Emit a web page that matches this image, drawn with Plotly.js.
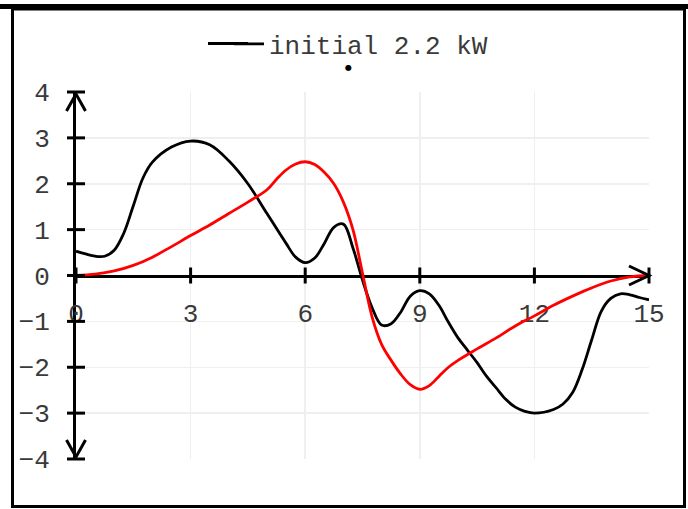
<!DOCTYPE html>
<html>
<head>
<meta charset="utf-8">
<script src="https://cdn.plot.ly/plotly-3.0.1.min.js"></script>
<style>
html,body{margin:0;padding:0;background:#fff;}
#chart{width:688px;height:509px;}
</style>
</head>
<body>
<div id="chart"></div>
<script>
// ---- data ----
const blackX = [0,0.25,0.5,0.75,1,1.25,1.5,1.75,2,2.5,3,3.5,4,4.5,5,5.5,5.75,6,6.25,6.5,6.75,7,7.25,7.5,7.75,8,8.25,8.5,8.75,9,9.25,9.5,9.75,10,10.25,10.5,10.75,11,11.25,11.5,11.75,12,12.5,12.75,13,13.25,13.5,13.75,14,14.25,14.5,14.75,15];
const blackY = [0.53,0.47,0.42,0.42,0.55,0.92,1.52,2.12,2.47,2.8,2.93,2.85,2.5,2.0,1.35,0.7,0.4,0.28,0.38,0.7,1.05,1.12,0.6,-0.1,-0.7,-1.08,-1.05,-0.8,-0.45,-0.33,-0.4,-0.65,-1.02,-1.36,-1.63,-1.9,-2.2,-2.45,-2.7,-2.87,-2.96,-3.0,-2.92,-2.8,-2.55,-2.05,-1.4,-0.78,-0.5,-0.4,-0.42,-0.48,-0.53];
const redX = [0,0.5,1,1.5,2,2.5,3,3.5,4,4.5,5,5.25,5.5,5.75,6,6.25,6.5,6.75,7,7.25,7.5,7.75,8,8.25,8.5,8.75,9,9.25,9.5,9.75,10,10.5,11,11.5,12,12.5,13,13.5,14,14.5,15];
const redY = [0,0.03,0.1,0.22,0.4,0.63,0.87,1.1,1.35,1.6,1.87,2.1,2.3,2.43,2.48,2.42,2.25,2.0,1.6,1.0,0.05,-0.9,-1.5,-1.85,-2.15,-2.38,-2.48,-2.4,-2.2,-2.0,-1.85,-1.6,-1.36,-1.1,-0.88,-0.65,-0.45,-0.27,-0.12,-0.03,0];
const seriesName = 'initial 2.2 kW';
const xTicks = [0,3,6,9,12,15];
const yTicks = [-4,-3,-2,-1,0,1,2,3,4];
const xRange = [0, 15];
const yRange = [-4, 4];

// ---- geometry helpers ----
const L = 76, R = 39, T = 92, B = 50, W = 688, H = 509;
const pw = W - L - R, ph = H - T - B;
const px = v => (v - L) / pw;          // pixel -> paper
const py = v => (H - B - v) / ph;
const xp = v => (v - xRange[0]) / (xRange[1] - xRange[0]);  // data -> paper
const yp = v => (v - yRange[0]) / (yRange[1] - yRange[0]);

const FONT = 'Liberation Mono, Courier New, monospace';
const TXT = '#3a3a3a';

const traces = [
  {x: blackX, y: blackY, type: 'scatter', mode: 'lines', name: seriesName,
   line: {color: '#000000', width: 2.8, shape: 'spline', smoothing: 1}},
  {x: redX, y: redY, type: 'scatter', mode: 'lines', name: 'red', showlegend: false,
   line: {color: '#ff0000', width: 2.8, shape: 'spline', smoothing: 1}}
];

const shapes = [];
const base = {xref: 'paper', yref: 'paper', line: {color: '#000', width: 3}};
// crossing tick marks
xTicks.forEach(t => shapes.push(Object.assign({type: 'line', ysizemode: 'pixel', yanchor: yp(0),
  x0: xp(t), x1: xp(t), y0: -8, y1: 8}, base)));
yTicks.forEach(t => shapes.push(Object.assign({type: 'line', xsizemode: 'pixel', xanchor: xp(0),
  x0: -9, x1: 9, y0: yp(t), y1: yp(t)}, base)));
// arrow heads (open chevrons)
shapes.push(Object.assign({type: 'path', xsizemode: 'pixel', ysizemode: 'pixel',
  xanchor: xp(xRange[1]), yanchor: yp(0), path: 'M -20 9.5 L 0 0 L -20 -9.5'}, base));
shapes.push(Object.assign({type: 'path', xsizemode: 'pixel', ysizemode: 'pixel',
  xanchor: xp(0), yanchor: yp(yRange[1]), path: 'M -9.5 -19 L 0 -2 L 9.5 -19'}, base));
shapes.push(Object.assign({type: 'path', xsizemode: 'pixel', ysizemode: 'pixel',
  xanchor: xp(0), yanchor: yp(yRange[0]), path: 'M -9.5 19 L 0 2 L 9.5 19'}, base));
// legend line extension (reference legend sample is longer than plotly's)
shapes.push({type: 'line', xref: 'paper', yref: 'paper', x0: px(208), x1: px(248), y0: py(43.5), y1: py(43.5),
  line: {color: '#000', width: 2.8}});
// outer frame
shapes.push({type: 'rect', xref: 'paper', yref: 'paper', x0: px(12.5), x1: px(684.5), y0: py(9), y1: py(506.5),
  line: {color: '#000', width: 3}});
shapes.push({type: 'line', xref: 'paper', yref: 'paper', x0: px(0), x1: px(688), y0: py(6.5), y1: py(6.5),
  line: {color: '#000', width: 5}});

const layout = {
  width: W, height: H,
  margin: {l: L, r: R, t: T, b: B, pad: 0},
  paper_bgcolor: '#ffffff', plot_bgcolor: '#ffffff',
  showlegend: true,
  legend: {orientation: 'h', x: px(229), xanchor: 'left', y: py(44), yanchor: 'middle',
    font: {family: FONT, size: 26, color: TXT}, bgcolor: 'rgba(0,0,0,0)'},
  xaxis: {range: xRange, tickvals: xTicks, ticktext: xTicks.map(String),
    showgrid: true, gridcolor: '#efefef', gridwidth: 1.5, zeroline: false,
    showline: true, linecolor: '#000', linewidth: 3, layer: 'below traces',
    anchor: 'free', position: 0.5, ticks: '', ticklabelstandoff: 13,
    tickfont: {family: FONT, size: 26, color: TXT}, fixedrange: true},
  yaxis: {range: yRange, tickvals: yTicks,
    showgrid: true, gridcolor: '#efefef', gridwidth: 1.5, zeroline: false,
    showline: true, linecolor: '#000', linewidth: 3, layer: 'below traces',
    ticks: '', ticklabelstandoff: 18,
    tickfont: {family: FONT, size: 26, color: TXT}, fixedrange: true},
  shapes: shapes,
  annotations: [{xref: 'paper', yref: 'paper', x: px(348), y: py(67), text: '●', showarrow: false,
    font: {family: 'DejaVu Sans', size: 8, color: '#000'}, xanchor: 'center', yanchor: 'middle'}]
};

Plotly.newPlot('chart', traces, layout, {displayModeBar: false, staticPlot: true});
</script>
</body>
</html>
